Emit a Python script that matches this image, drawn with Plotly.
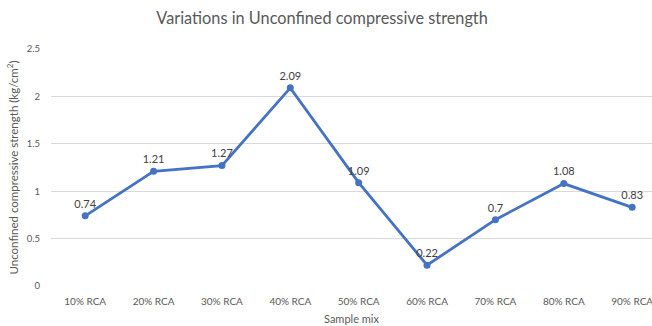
import plotly.graph_objects as go

categories = ["10% RCA", "20% RCA", "30% RCA", "40% RCA", "50% RCA",
              "60% RCA", "70% RCA", "80% RCA", "90% RCA"]
values = [0.74, 1.21, 1.27, 2.09, 1.09, 0.22, 0.70, 1.08, 0.83]
value_labels = ["0.74", "1.21", "1.27", "2.09", "1.09", "0.22", "0.7", "1.08", "0.83"]
y_ticks = [0, 0.5, 1, 1.5, 2, 2.5]
y_tick_labels = ["0", "0.5", "1", "1.5", "2", "2.5"]

FONT = "Lato, 'Open Sans', sans-serif"

fig = go.Figure()
fig.add_trace(go.Scatter(
    x=list(range(len(categories))), y=values,
    mode="lines+markers+text",
    text=value_labels, textposition="top center",
    textfont=dict(family=FONT, size=11, color="#404040"),
    line=dict(color="#4472C4", width=2.8),
    marker=dict(color="#4472C4", size=7),
    cliponaxis=False,
    showlegend=False,
))

fig.update_layout(
    width=652, height=326,
    margin=dict(l=51, r=0, t=49, b=40),
    paper_bgcolor="white", plot_bgcolor="white",
    font=dict(family=FONT, color="#595959"),
    title=dict(text="Variations in Unconfined compressive strength",
               x=0.494, xanchor="center", y=0.945, yanchor="middle",
               font=dict(family=FONT, size=16.3, color="#595959")),
    xaxis=dict(
        range=[-0.5, 8.29],
        tickmode="array", tickvals=list(range(len(categories))), ticktext=categories,
        tickfont=dict(family=FONT, size=10, color="#595959"),
        ticklabeloverflow="allow",
        showgrid=False, zeroline=False, showline=False,
        ticks="outside", ticklen=6, tickcolor="rgba(0,0,0,0)",
        title=dict(text="Sample mix", font=dict(family=FONT, size=11, color="#595959"), standoff=9),
    ),
    yaxis=dict(
        range=[0, 2.5],
        tickmode="array", tickvals=y_ticks, ticktext=y_tick_labels,
        tickfont=dict(family=FONT, size=9.5, color="#595959"),
        showgrid=True, gridcolor="#D9D9D9", gridwidth=1,
        zeroline=False, showline=False, ticks="outside", ticklen=8, tickcolor="rgba(0,0,0,0)",
        title=dict(text="Unconfined compressive strength (kg/cm<sup>2</sup>)",
                   font=dict(family=FONT, size=11.5, color="#595959"), standoff=5),
    ),
)

fig.write_html("out.html")
